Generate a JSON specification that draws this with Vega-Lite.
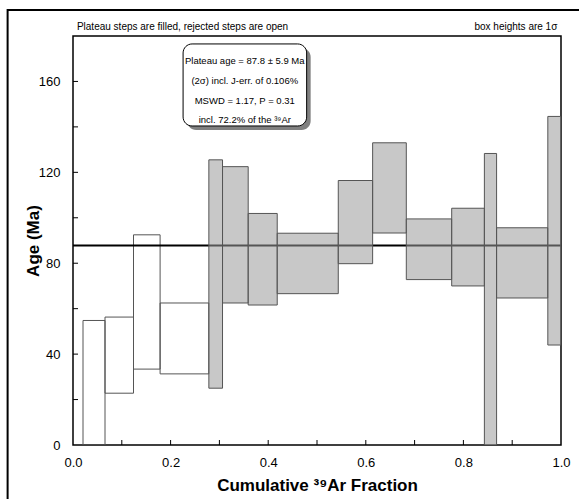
{
  "$schema": "https://vega.github.io/schema/vega-lite/v6.json",
  "width": 488,
  "height": 409,
  "autosize": "none",
  "padding": {"left": 73, "top": 36, "right": 18, "bottom": 54},
  "config": {
    "font": "Liberation Sans",
    "view": {"stroke": "black", "strokeWidth": 1.5},
    "axis": {
      "domain": false,
      "grid": false,
      "ticks": false,
      "labelColor": "black",
      "labelFontSize": 13,
      "labelFlush": false,
      "titleColor": "black",
      "titleFontSize": 17,
      "titleFontWeight": "bold"
    }
  },
  "datasets": {
    "steps": [
      {"step": 1, "x0": 0.0205, "x1": 0.0656, "lo": 0.0, "hi": 54.8, "status": "rejected"},
      {"step": 2, "x0": 0.0656, "x1": 0.124, "lo": 22.8, "hi": 56.3, "status": "rejected"},
      {"step": 3, "x0": 0.124, "x1": 0.1785, "lo": 33.4, "hi": 92.5, "status": "rejected"},
      {"step": 4, "x0": 0.1785, "x1": 0.2784, "lo": 31.3, "hi": 62.5, "status": "rejected"},
      {"step": 5, "x0": 0.2784, "x1": 0.3064, "lo": 25.0, "hi": 125.5, "status": "plateau"},
      {"step": 6, "x0": 0.3064, "x1": 0.359, "lo": 62.5, "hi": 122.5, "status": "plateau"},
      {"step": 7, "x0": 0.359, "x1": 0.4185, "lo": 61.6, "hi": 101.9, "status": "plateau"},
      {"step": 8, "x0": 0.4185, "x1": 0.5436, "lo": 66.6, "hi": 93.2, "status": "plateau"},
      {"step": 9, "x0": 0.5436, "x1": 0.614, "lo": 79.8, "hi": 116.4, "status": "plateau"},
      {"step": 10, "x0": 0.614, "x1": 0.683, "lo": 93.3, "hi": 133.0, "status": "plateau"},
      {"step": 11, "x0": 0.683, "x1": 0.776, "lo": 72.8, "hi": 99.5, "status": "plateau"},
      {"step": 12, "x0": 0.776, "x1": 0.843, "lo": 70.0, "hi": 104.2, "status": "plateau"},
      {"step": 13, "x0": 0.843, "x1": 0.868, "lo": -5.0, "hi": 128.3, "status": "plateau"},
      {"step": 14, "x0": 0.868, "x1": 0.973, "lo": 64.7, "hi": 95.6, "status": "plateau"},
      {"step": 15, "x0": 0.973, "x1": 1.0, "lo": 44.0, "hi": 144.6, "status": "plateau"}
    ],
    "xticks": [{"v": 0.1}, {"v": 0.2}, {"v": 0.3}, {"v": 0.4}, {"v": 0.5}, {"v": 0.6}, {"v": 0.7}, {"v": 0.8}, {"v": 0.9}],
    "yticks": [{"v": 20}, {"v": 40}, {"v": 60}, {"v": 80}, {"v": 100}, {"v": 120}, {"v": 140}, {"v": 160}],
    "plateau": [{"x0": 0, "x1": 1, "age": 87.8}],
    "frame": [{"x0": -0.134, "x1": 1.2, "y0": 191.4, "y1": -40}],
    "callout": [{"x0": 0.2256, "x1": 0.4788, "y0": 140.4, "y1": 176.5}],
    "shadow": [{"x0": 0.2338, "x1": 0.4870, "y0": 138.6, "y1": 174.7}],
    "calloutText": [
      {"x": 0.352, "y": 169.2, "text": "Plateau age = 87.8 ± 5.9 Ma"},
      {"x": 0.352, "y": 160.4, "text": "(2σ) incl. J-err. of 0.106%"},
      {"x": 0.352, "y": 151.6, "text": "MSWD = 1.17, P = 0.31"},
      {"x": 0.352, "y": 143.2, "text": "incl. 72.2% of the ³⁹Ar"}
    ],
    "header": [
      {"x": 0.008, "y": 184.0, "text": "Plateau steps are filled, rejected steps are open", "side": "left"},
      {"x": 0.9925, "y": 184.0, "text": "box heights are 1σ", "side": "right"}
    ]
  },
  "layer": [
    {
      "data": {"name": "steps"},
      "transform": [{"filter": "datum.status === 'rejected'"}],
      "mark": {"type": "rect", "fill": null, "stroke": "#555555", "strokeWidth": 1, "clip": true},
      "encoding": {
        "x": {
          "field": "x0", "type": "quantitative",
          "scale": {"domain": [0, 1], "nice": false, "zero": false},
          "axis": {
            "title": "Cumulative ³⁹Ar Fraction",
            "values": [0, 0.2, 0.4, 0.6, 0.8, 1.0],
            "format": ".1f",
            "labelPadding": 11,
            "titlePadding": 8
          }
        },
        "x2": {"field": "x1"},
        "y": {
          "field": "lo", "type": "quantitative",
          "scale": {"domain": [0, 180], "nice": false},
          "axis": {
            "title": "Age (Ma)",
            "values": [0, 40, 80, 120, 160],
            "labelPadding": 13,
            "titlePadding": -4
          }
        },
        "y2": {"field": "hi"}
      }
    },
    {
      "data": {"name": "xticks"},
      "mark": {"type": "rule", "stroke": "black", "strokeWidth": 1},
      "encoding": {
        "x": {"field": "v", "type": "quantitative", "scale": {"domain": [0, 1], "nice": false, "zero": false}},
        "y": {"datum": 0, "type": "quantitative", "scale": {"domain": [0, 180], "nice": false}},
        "y2": {"datum": 2.2}
      }
    },
    {
      "data": {"name": "yticks"},
      "mark": {"type": "rule", "stroke": "black", "strokeWidth": 1},
      "encoding": {
        "y": {"field": "v", "type": "quantitative", "scale": {"domain": [0, 180], "nice": false}},
        "x": {"datum": 0, "type": "quantitative", "scale": {"domain": [0, 1], "nice": false, "zero": false}},
        "x2": {"datum": 0.0103}
      }
    },
    {
      "data": {"name": "plateau"},
      "mark": {"type": "rule", "stroke": "black", "strokeWidth": 2},
      "encoding": {
        "x": {"field": "x0", "type": "quantitative", "scale": {"domain": [0, 1], "nice": false, "zero": false}},
        "x2": {"field": "x1"},
        "y": {"field": "age", "type": "quantitative", "scale": {"domain": [0, 180], "nice": false}}
      }
    },
    {
      "data": {"name": "steps"},
      "transform": [{"filter": "datum.status === 'plateau'"}],
      "mark": {"type": "rect", "fill": "#9b9b9b", "fillOpacity": 0.55, "stroke": "#555555", "strokeWidth": 1, "clip": true},
      "encoding": {
        "x": {"field": "x0", "type": "quantitative", "scale": {"domain": [0, 1], "nice": false, "zero": false}},
        "x2": {"field": "x1"},
        "y": {"field": "lo", "type": "quantitative", "scale": {"domain": [0, 180], "nice": false}},
        "y2": {"field": "hi"}
      }
    },
    {
      "data": {"name": "shadow"},
      "mark": {"type": "rect", "fill": "#808080", "cornerRadius": 9},
      "encoding": {
        "x": {"field": "x0", "type": "quantitative", "scale": {"domain": [0, 1], "nice": false, "zero": false}},
        "x2": {"field": "x1"},
        "y": {"field": "y0", "type": "quantitative", "scale": {"domain": [0, 180], "nice": false}},
        "y2": {"field": "y1"}
      }
    },
    {
      "data": {"name": "callout"},
      "mark": {"type": "rect", "fill": "white", "stroke": "black", "strokeWidth": 1, "cornerRadius": 9},
      "encoding": {
        "x": {"field": "x0", "type": "quantitative", "scale": {"domain": [0, 1], "nice": false, "zero": false}},
        "x2": {"field": "x1"},
        "y": {"field": "y0", "type": "quantitative", "scale": {"domain": [0, 180], "nice": false}},
        "y2": {"field": "y1"}
      }
    },
    {
      "data": {"name": "calloutText"},
      "mark": {"type": "text", "align": "center", "baseline": "middle", "fontSize": 9.5, "color": "black"},
      "encoding": {
        "x": {"field": "x", "type": "quantitative", "scale": {"domain": [0, 1], "nice": false, "zero": false}},
        "y": {"field": "y", "type": "quantitative", "scale": {"domain": [0, 180], "nice": false}},
        "text": {"field": "text"}
      }
    },
    {
      "data": {"name": "header"},
      "transform": [{"filter": "datum.side === 'left'"}],
      "mark": {"type": "text", "align": "left", "baseline": "middle", "fontSize": 10, "color": "black", "clip": false},
      "encoding": {
        "x": {"field": "x", "type": "quantitative", "scale": {"domain": [0, 1], "nice": false, "zero": false}},
        "y": {"field": "y", "type": "quantitative", "scale": {"domain": [0, 180], "nice": false}},
        "text": {"field": "text"}
      }
    },
    {
      "data": {"name": "header"},
      "transform": [{"filter": "datum.side === 'right'"}],
      "mark": {"type": "text", "align": "right", "baseline": "middle", "fontSize": 10, "color": "black", "clip": false},
      "encoding": {
        "x": {"field": "x", "type": "quantitative", "scale": {"domain": [0, 1], "nice": false, "zero": false}},
        "y": {"field": "y", "type": "quantitative", "scale": {"domain": [0, 180], "nice": false}},
        "text": {"field": "text"}
      }
    },
    {
      "data": {"name": "frame"},
      "mark": {"type": "rect", "fill": null, "stroke": "black", "strokeWidth": 2, "clip": false},
      "encoding": {
        "x": {"field": "x0", "type": "quantitative", "scale": {"domain": [0, 1], "nice": false, "zero": false}},
        "x2": {"field": "x1"},
        "y": {"field": "y0", "type": "quantitative", "scale": {"domain": [0, 180], "nice": false}},
        "y2": {"field": "y1"}
      }
    }
  ]
}
